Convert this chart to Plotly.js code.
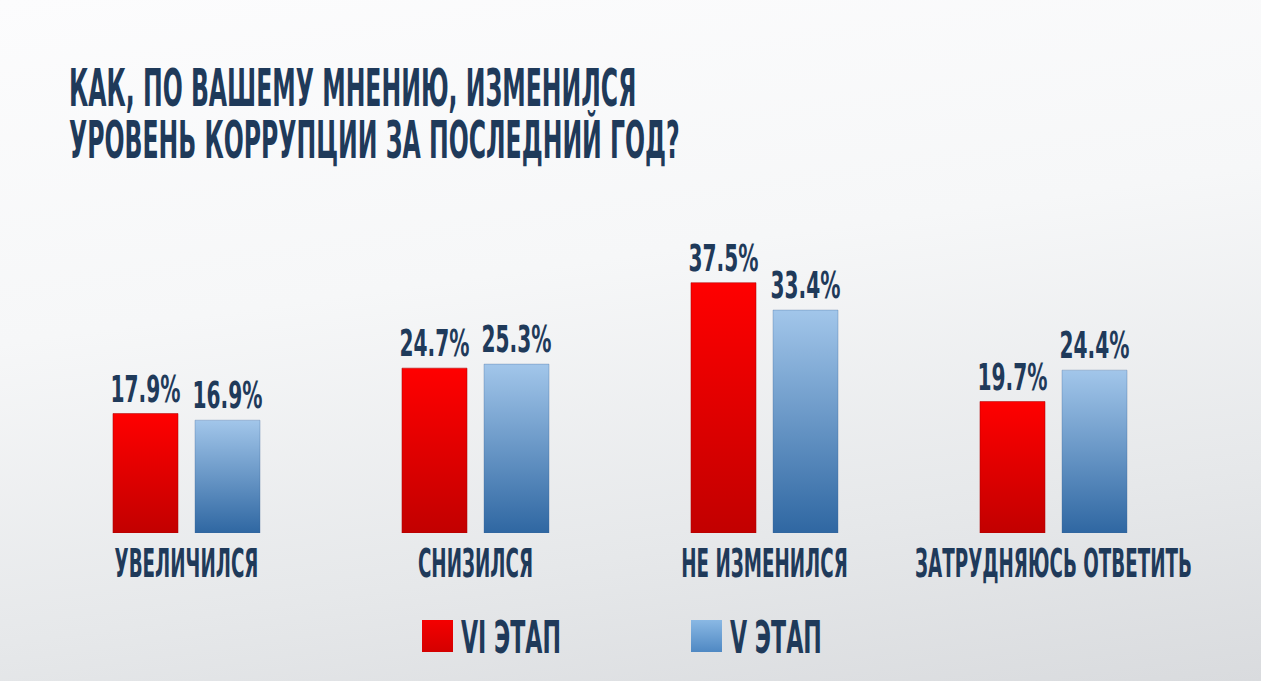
<!DOCTYPE html>
<html><head><meta charset="utf-8">
<script src="https://cdn.plot.ly/plotly-3.0.1.min.js"></script>
<style>
html,body{margin:0;padding:0;width:1261px;height:681px;overflow:hidden;
background: linear-gradient(172deg,#fcfcfd 0%,#f6f7f8 40%,#e6e8ea 75%,#d9dbde 100%);}
#chart{width:1261px;height:681px;}
</style></head><body><div id="chart"></div>
<script>
// ---- data ----
const categories = ["УВЕЛИЧИЛСЯ", "СНИЗИЛСЯ", "НЕ ИЗМЕНИЛСЯ", "ЗАТРУДНЯЮСЬ ОТВЕТИТЬ"];
const stageVI = [17.9, 24.7, 37.5, 19.7];
const stageV = [16.9, 25.3, 33.4, 24.4];
const seriesNames = ["VI ЭТАП", "V ЭТАП"];
const titleLines = ["КАК, ПО ВАШЕМУ МНЕНИЮ, ИЗМЕНИЛСЯ", "УРОВЕНЬ КОРРУПЦИИ ЗА ПОСЛЕДНИЙ ГОД?"];

// ---- style ----
const FONT = "'Liberation Sans Narrow', 'DejaVu Sans Condensed', 'Liberation Sans', Arial, sans-serif";
const NAVY = "#1f3a5a";
const L = 42, R = 1198, T = 266, B = 533;
const px2x = p => (p - L) / (R - L);
const px2y = p => (B - p) / (B - T);

const fmt = v => v.toFixed(1) + "%";

const traces = [
  {type: "bar", name: seriesNames[0], x: categories, y: stageVI,
   text: stageVI.map(fmt), textposition: "outside", textangle: 0, constraintext: "none",
   cliponaxis: false, marker: {color: "#e30000"},
   textfont: {family: FONT, size: 37, color: NAVY, weight: 700}, hoverinfo: "skip", showlegend: false},
  {type: "bar", name: seriesNames[1], x: categories, y: stageV,
   text: stageV.map(fmt), textposition: "outside", textangle: 0, constraintext: "none",
   cliponaxis: false, marker: {color: "#6a9fd4"},
   textfont: {family: FONT, size: 37, color: NAVY, weight: 700}, hoverinfo: "skip", showlegend: false}
];

const annFont = (s) => ({family: FONT, size: s, color: NAVY, weight: 700});
const layout = {
  width: 1261, height: 681,
  margin: {l: L, r: 1261 - R, t: T, b: 681 - B, pad: 0},
  paper_bgcolor: "rgba(0,0,0,0)", plot_bgcolor: "rgba(0,0,0,0)",
  barmode: "group", bargap: 0.4325, bargroupgap: 0.207,
  showlegend: false,
  xaxis: {type: "category", showgrid: false, zeroline: false, showline: false, ticks: "", tickangle: 0,
          tickfont: {family: FONT, size: 39, color: NAVY, weight: 700}, ticklabelstandoff: 4, automargin: false},
  yaxis: {range: [0, 40], visible: false, fixedrange: true},
  annotations: [
    {text: titleLines.join("<br>"), xref: "paper", yref: "paper", x: px2x(68), y: px2y(121), xanchor: "left", yanchor: "middle",
     align: "left", showarrow: false, font: annFont(51), borderpad: 0},
    {text: seriesNames[0], xref: "paper", yref: "paper", x: px2x(460), y: px2y(637), xanchor: "left", yanchor: "middle",
     showarrow: false, font: annFont(45), borderpad: 0},
    {text: seriesNames[1], xref: "paper", yref: "paper", x: px2x(729), y: px2y(637), xanchor: "left", yanchor: "middle",
     showarrow: false, font: annFont(45), borderpad: 0}
  ],
  shapes: [
    {type: "rect", xref: "paper", yref: "paper", x0: px2x(422), x1: px2x(453), y0: px2y(652), y1: px2y(620),
     fillcolor: "#e30000", line: {width: 0}},
    {type: "rect", xref: "paper", yref: "paper", x0: px2x(691), x1: px2x(722), y0: px2y(652), y1: px2y(620),
     fillcolor: "#6a9fd4", line: {width: 0}}
  ]
};

function squeeze(el, k, anchor) {
  const bb = el.getBBox();
  const cx = anchor === "left" ? bb.x : bb.x + bb.width / 2;
  const t = el.getAttribute("transform") || "";
  el.setAttribute("transform", t + ` translate(${cx},0) scale(${k},1) translate(${-cx},0)`);
}

Plotly.newPlot("chart", traces, layout, {staticPlot: true}).then(gd => {
  const svg = gd.querySelector("svg.main-svg");
  const NS = "http://www.w3.org/2000/svg";
  const defs = document.createElementNS(NS, "defs");
  const mk = (id, stops) => {
    const g = document.createElementNS(NS, "linearGradient");
    g.setAttribute("id", id); g.setAttribute("x1", "0"); g.setAttribute("y1", "0");
    g.setAttribute("x2", "0"); g.setAttribute("y2", "1");
    stops.forEach(([o, c]) => {
      const s = document.createElementNS(NS, "stop");
      s.setAttribute("offset", o); s.setAttribute("stop-color", c); g.appendChild(s);
    });
    defs.appendChild(g);
  };
  mk("gRed", [["0", "#ff0000"], ["1", "#c20000"]]);
  mk("gBlue", [["0", "#a2c6ea"], ["1", "#2f67a2"]]);
  mk("gRedL", [["0", "#f40000"], ["1", "#d40000"]]);
  mk("gBlueL", [["0", "#8ab8e4"], ["1", "#4f88c3"]]);
  svg.insertBefore(defs, svg.firstChild);

  gd.querySelectorAll(".barlayer .trace").forEach((tr, i) => {
    tr.querySelectorAll(".point path").forEach(p => {
      p.style.fill = i === 0 ? "url(#gRed)" : "url(#gBlue)";
      p.style.stroke = i === 0 ? "rgba(170,0,0,0.5)" : "rgba(60,100,150,0.3)";
      p.style.strokeWidth = "1px";
    });
  });
  gd.querySelectorAll(".shapelayer path").forEach((p, i) => {
    p.style.fill = i === 0 ? "url(#gRedL)" : "url(#gBlueL)";
  });

  const anns = Array.from(gd.querySelectorAll(".annotation-text"));
  // title: tighten line spacing and condense lettering
  const title = anns.find(a => a.textContent.indexOf(titleLines[0]) === 0);
  if (title) {
    const lines = title.querySelectorAll("tspan.line");
    if (lines.length > 1) lines[1].setAttribute("dy", "52px");
    squeeze(title, 611 / title.getBBox().width, "left");
  }
  const leg = anns.filter(a => seriesNames.includes(a.textContent));
  const legRef = leg.find(a => a.textContent === seriesNames[0]);
  const kLeg = 100 / legRef.getBBox().width;
  leg.forEach(a => squeeze(a, kLeg, "left"));

  const ticks = Array.from(gd.querySelectorAll(".xtick text"));
  const longest = ticks.reduce((m, t) => t.getBBox().width > m.getBBox().width ? t : m, ticks[0]);
  const kTick = 277 / longest.getBBox().width;
  ticks.forEach(t => squeeze(t, kTick, "middle"));

  const vals = Array.from(gd.querySelectorAll(".bartext"));
  const refV = vals.find(v => v.textContent === "37.5%") || vals[0];
  const kVal = 70 / refV.getBBox().width;
  vals.forEach(v => squeeze(v, kVal, "middle"));
});
</script>
</body></html>
